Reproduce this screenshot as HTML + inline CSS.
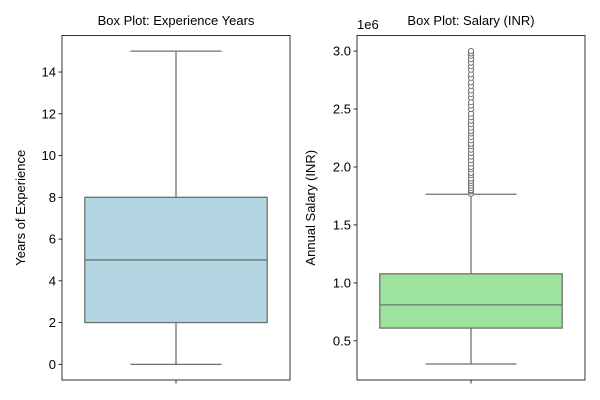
<!DOCTYPE html>
<html><head><meta charset="utf-8"><style>
html,body{margin:0;padding:0;background:#fff;}
svg{display:block;font-family:"Liberation Sans","DejaVu Sans",sans-serif;}
</style></head><body>
<svg id="chart" width="600" height="400" xmlns="http://www.w3.org/2000/svg"></svg>
<script>
// Experience chart data
const expTicks = [0, 2, 4, 6, 8, 10, 12, 14];
const expStats = [0, 2, 5, 8, 15]; // min, q1, median, q3, max
const expOutliers = [];
// Salary chart data (in 1e6)
const salTicks = [0.5, 1.0, 1.5, 2.0, 2.5, 3.0];
const salStats = [0.3, 0.61, 0.81, 1.078, 1.765];
const salOutliers = [1.77, 1.79, 1.8, 1.82, 1.84, 1.86, 1.88, 1.9, 1.93, 1.95, 1.98, 2.0, 2.03, 2.06, 2.09, 2.12, 2.15, 2.18, 2.2, 2.23, 2.26, 2.29, 2.31, 2.34, 2.37, 2.4, 2.43, 2.46, 2.5, 2.53, 2.56, 2.6, 2.63, 2.66, 2.7, 2.73, 2.77, 2.8, 2.84, 2.87, 2.9, 2.93, 2.96, 2.98, 3.0];

const NS = "http://www.w3.org/2000/svg";
const svg = document.getElementById('chart');
function mk(tag, attrs, parent) {
  const e = document.createElementNS(NS, tag);
  for (const k in attrs) e.setAttribute(k, attrs[k]);
  (parent || svg).appendChild(e);
  return e;
}
const LC = '#707070';

function panel(opt) {
  const g = mk('g', {});
  
  
  const x0 = opt.x0, x1 = opt.x1, top = 35.5, bot = 380;
  const y = v => bot - (v - opt.ymin) / (opt.ymax - opt.ymin) * (bot - top);
  const w = x1 - x0, cx = x0 + w / 2;
  const bx0 = x0 + 0.1 * w, bx1 = x1 - 0.1 * w;
  const cx0 = x0 + 0.3 * w, cx1 = x1 - 0.3 * w;
  const s = opt.stats;
  // whiskers
  let e = mk('line', {x1: cx, x2: cx, y1: y(s[0]), y2: y(s[1]), stroke: LC, 'stroke-width': 1.3}, g);
   
  e = mk('line', {x1: cx, x2: cx, y1: y(s[3]), y2: y(s[4]), stroke: LC, 'stroke-width': 1.3}, g);
   
  e = mk('line', {x1: cx0, x2: cx1, y1: y(s[0]), y2: y(s[0]), stroke: LC, 'stroke-width': 1.3}, g);
   
  e = mk('line', {x1: cx0, x2: cx1, y1: y(s[4]), y2: y(s[4]), stroke: LC, 'stroke-width': 1.3}, g);
   
  e = mk('rect', {x: bx0, y: y(s[3]), width: bx1 - bx0, height: y(s[1]) - y(s[3]), fill: opt.color, stroke: LC, 'stroke-width': 1.3}, g);
   
  e = mk('line', {x1: bx0, x2: bx1, y1: y(s[2]), y2: y(s[2]), stroke: LC, 'stroke-width': 1.3}, g);
   
  opt.outliers.forEach(v => {
    const c = mk('circle', {cx: cx, cy: y(v), r: 2.6, fill: '#fff', stroke: LC, 'stroke-width': 1}, g);
    
    
  });
  // frame
  e = mk('rect', {x: x0, y: top, width: w, height: bot - top, fill: 'none', stroke: '#000', 'stroke-width': 0.8}, g);
   
  // ticks
  opt.ticks.forEach(v => {
    const t = mk('line', {x1: x0 - 3.5, x2: x0, y1: y(v), y2: y(v), stroke: '#000', 'stroke-width': 0.8}, g);
    
    
    const tx = mk('text', {x: x0 - 6, y: y(v) + 4.5, 'text-anchor': 'end', 'font-size': 13, fill: '#000'}, g);
    tx.textContent = opt.fmt(v);
    
    
  });
  e = mk('line', {x1: cx, x2: cx, y1: bot, y2: bot + 3.5, stroke: '#000', 'stroke-width': 0.8}, g);
   
  const ti = mk('text', {x: cx, y: 25, 'text-anchor': 'middle', 'font-size': 13}, g);
  ti.textContent = opt.title;
  
  
  const yl = mk('text', {x: opt.ylx, y: (top + bot) / 2, 'text-anchor': 'middle', 'font-size': 13, transform: 'rotate(-90 ' + opt.ylx + ' ' + (top + bot) / 2 + ')'}, g);
  yl.textContent = opt.ylabel;
  
  
  return {g, x0};
}

panel({name: 'experience-panel', x0: 62, x1: 290, ymin: -0.75, ymax: 15.75, stats: expStats, outliers: expOutliers,
  ticks: expTicks, fmt: v => String(v), color: '#b3d6e2', title: 'Box Plot: Experience Years', ylabel: 'Years of Experience', ylx: 25});
const p2 = panel({name: 'salary-panel', x0: 357, x1: 585, ymin: 0.162, ymax: 3.1345, stats: salStats, outliers: salOutliers,
  ticks: salTicks, fmt: v => v.toFixed(1), color: '#9de39d', title: 'Box Plot: Salary (INR)', ylabel: 'Annual Salary (INR)', ylx: 315});
const off = mk('text', {x: 357, y: 29, 'font-size': 13}, p2.g);
off.textContent = '1e6';


</script>
</body></html>
